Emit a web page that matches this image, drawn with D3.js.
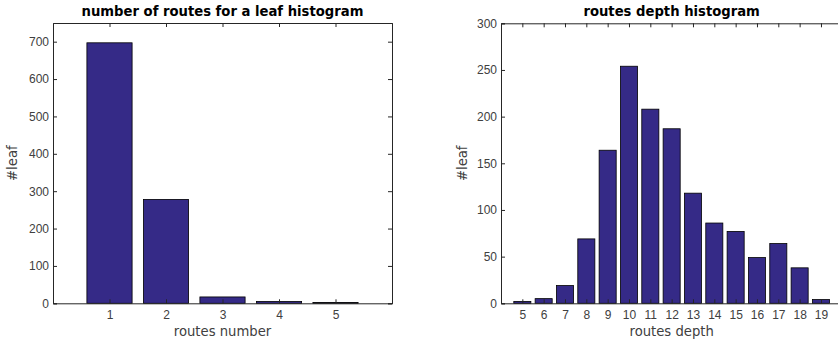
<!DOCTYPE html>
<html>
<head>
<meta charset="utf-8">
<script src="https://cdn.jsdelivr.net/npm/d3@7"></script>
<style>
  body { margin: 0; background: #fff; }
  svg { display: block; font-family: "DejaVu Sans", sans-serif; }
  .tick text { fill: #404040; font-size: 12px; }
</style>
</head>
<body>
<svg id="chart" width="838" height="341"></svg>
<script>
// routes per leaf
const routeNumbers = [1, 2, 3, 4, 5]
const routeNumberCounts = [697, 278, 17, 5, 2]

// routes depth
const routeDepths = [5, 6, 7, 8, 9, 10, 11, 12, 13, 14, 15, 16, 17, 18, 19]
const routeDepthCounts = [2, 5, 19, 69, 164, 254, 208, 187, 118, 86, 77, 49, 64, 38, 4]

const leftTicksY = [0, 100, 200, 300, 400, 500, 600, 700]
const rightTicksY = [0, 50, 100, 150, 200, 250, 300]

const svg = d3.select('#chart')

function drawHist(opts) {
  const { x0, x1, y0, y1, xDomain, yDomain, cats, vals, yTicks, title, xLabel, yLabel, yLabelX } = opts
  const g = svg.append('g')
  const x = d3.scaleLinear().domain(xDomain).range([x0, x1])
  const y = d3.scaleLinear().domain(yDomain).range([y1, y0])
  const bw = (x(1) - x(0)) * 0.8

  // bars
  g.append('g').selectAll('rect')
    .data(cats)
    .enter()
    .append('rect')
    .attr('x', d => x(d) - bw / 2)
    .attr('width', bw)
    .attr('y', (d, i) => y(vals[i]))
    .attr('height', (d, i) => y(0) - y(vals[i]))
    .attr('fill', '#352a87')
    .attr('stroke', '#000')
    .attr('stroke-width', 0.8)

  // axes, ticks pointing inward
  const tl = 4
  g.append('g')
    .attr('transform', `translate(0,${y1})`)
    .call(d3.axisBottom(x).tickValues(cats).tickSize(-tl).tickPadding(7).tickFormat(d3.format('d')))
  g.append('g')
    .attr('transform', `translate(0,${y0})`)
    .call(d3.axisTop(x).tickValues(cats).tickSize(-tl).tickFormat(''))
  g.append('g')
    .attr('transform', `translate(${x0},0)`)
    .call(d3.axisLeft(y).tickValues(yTicks).tickSize(-tl).tickPadding(4))
  g.append('g')
    .attr('transform', `translate(${x1},0)`)
    .call(d3.axisRight(y).tickValues(yTicks).tickSize(-tl).tickFormat(''))

  g.selectAll('.domain').attr('stroke', '#262626')
  g.selectAll('.tick line').attr('stroke', '#262626')

  g.append('text')
    .attr('x', (x0 + x1) / 2)
    .attr('y', 16)
    .attr('text-anchor', 'middle')
    .style('font-size', '13.2px')
    .style('font-weight', 'bold')
    .attr('fill', '#000')
    .text(title)

  g.append('text')
    .attr('x', (x0 + x1) / 2)
    .attr('y', 336)
    .attr('text-anchor', 'middle')
    .style('font-size', '13.2px')
    .attr('fill', '#404040')
    .text(xLabel)

  g.append('text')
    .attr('transform', `translate(${yLabelX},${(y0 + y1) / 2}) rotate(-90)`)
    .attr('text-anchor', 'middle')
    .style('font-size', '13.2px')
    .attr('fill', '#404040')
    .text(yLabel)
}

drawHist({
  x0: 53, x1: 392, y0: 23, y1: 303.3,
  xDomain: [0, 6], yDomain: [0, 750],
  cats: routeNumbers, vals: routeNumberCounts, yTicks: leftTicksY,
  title: 'number of routes for a leaf histogram', xLabel: 'routes number', yLabel: '#leaf', yLabelX: 17
})

drawHist({
  x0: 501, x1: 842.3, y0: 23.3, y1: 303.3,
  xDomain: [4, 20], yDomain: [0, 300],
  cats: routeDepths, vals: routeDepthCounts, yTicks: rightTicksY,
  title: 'routes depth histogram', xLabel: 'routes depth', yLabel: '#leaf', yLabelX: 467
})
</script>
</body>
</html>
